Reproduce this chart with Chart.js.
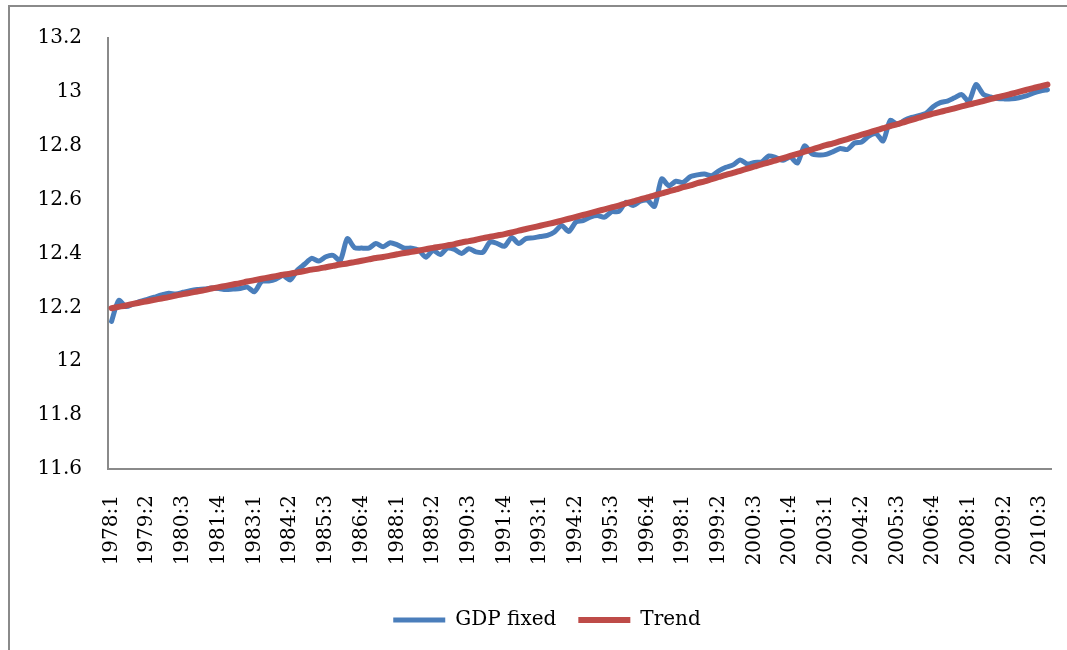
<!DOCTYPE html>
<html>
<head>
<meta charset="utf-8">
<script src="https://cdn.jsdelivr.net/npm/chart.js@4"></script>
<style>
  html, body { margin: 0; padding: 0; background: #fff; overflow: hidden; }
  #wrap { position: relative; width: 1067px; height: 650px; overflow: hidden; }
  #frame { position: absolute; left: 8px; top: 5px; width: 1200px; height: 800px; border: 2px solid #8a8a8a; box-sizing: border-box; }
  canvas { position: absolute; left: 0; top: 0; }
</style>
</head>
<body>
<div id="wrap">
  <div id="frame"></div>
  <canvas id="c" width="1081" height="650"></canvas>
</div>
<script>
// Quarter categories 1978:1 .. 2010:4
const startYear = 1978;
const quarterCount = 132;
const categories = [];
for (let i = 0; i < quarterCount; i++) {
  categories.push((startYear + Math.floor(i / 4)) + ':' + (i % 4 + 1));
}

const gdpFixed = [
  12.148, 12.226, 12.203, 12.212, 12.222, 12.230, 12.238, 12.246, 12.252, 12.250,
  12.256, 12.262, 12.266, 12.268, 12.272, 12.270, 12.266, 12.268, 12.270, 12.275,
  12.258, 12.296, 12.298, 12.305, 12.318, 12.302, 12.338, 12.360, 12.382, 12.372,
  12.388, 12.393, 12.374, 12.455, 12.422, 12.420, 12.420, 12.437, 12.425, 12.440,
  12.432, 12.420, 12.420, 12.412, 12.386, 12.412, 12.396, 12.420, 12.415, 12.400,
  12.418, 12.406, 12.405, 12.443, 12.437, 12.427, 12.459, 12.437, 12.455, 12.458,
  12.463, 12.467, 12.480, 12.504, 12.482, 12.517, 12.522, 12.535, 12.541, 12.535,
  12.555, 12.556, 12.590, 12.578, 12.594, 12.598, 12.575, 12.677, 12.652, 12.668,
  12.664, 12.685, 12.692, 12.695, 12.689, 12.707, 12.720, 12.729, 12.747, 12.732,
  12.738, 12.740, 12.762, 12.756, 12.746, 12.758, 12.736, 12.800, 12.771, 12.766,
  12.768, 12.778, 12.790, 12.786, 12.810, 12.814, 12.836, 12.845, 12.818, 12.894,
  12.879, 12.895, 12.905, 12.912, 12.920, 12.945, 12.960, 12.966, 12.978, 12.990,
  12.965, 13.027, 12.992, 12.981, 12.975, 12.974, 12.974, 12.978, 12.985, 12.995,
  13.003, 13.008
];

const trend = [
  12.197, 12.202, 12.207, 12.213, 12.218, 12.223, 12.228, 12.233, 12.238, 12.244,
  12.249, 12.254, 12.259, 12.264, 12.270, 12.275, 12.280, 12.285, 12.290, 12.296,
  12.301, 12.306, 12.311, 12.316, 12.321, 12.325, 12.330, 12.335, 12.340, 12.344,
  12.349, 12.354, 12.359, 12.363, 12.368, 12.373, 12.378, 12.383, 12.387, 12.392,
  12.397, 12.402, 12.406, 12.411, 12.416, 12.421, 12.425, 12.430, 12.435, 12.441,
  12.446, 12.451, 12.457, 12.462, 12.467, 12.472, 12.478, 12.485, 12.491, 12.497,
  12.503, 12.509, 12.515, 12.522, 12.529, 12.536, 12.543, 12.550, 12.557, 12.564,
  12.571, 12.578, 12.586, 12.593, 12.601, 12.608, 12.616, 12.623, 12.631, 12.638,
  12.646, 12.653, 12.661, 12.668, 12.676, 12.684, 12.692, 12.699, 12.707, 12.715,
  12.723, 12.731, 12.738, 12.746, 12.754, 12.762, 12.770, 12.778, 12.786, 12.794,
  12.802, 12.809, 12.817, 12.825, 12.833, 12.841, 12.849, 12.857, 12.865, 12.873,
  12.880, 12.888, 12.896, 12.904, 12.912, 12.919, 12.926, 12.932, 12.939, 12.946,
  12.953, 12.959, 12.966, 12.973, 12.980, 12.986, 12.993, 13.000, 13.007, 13.014,
  13.020, 13.027
];

const seriesNames = ['GDP fixed', 'Trend'];
const yMin = 11.6, yMax = 13.2, yStep = 0.2;
const labelEvery = 5;

const FONT = 'DejaVu Serif';
const axisColor = '#8a8a8a';

new Chart(document.getElementById('c'), {
  type: 'line',
  data: {
    labels: categories,
    datasets: [
      {
        label: seriesNames[0],
        data: gdpFixed,
        borderColor: '#4a7ebb',
        backgroundColor: '#4a7ebb',
        borderWidth: 5,
        borderCapStyle: 'round',
        borderJoinStyle: 'round',
        pointRadius: 0,
        tension: 0.25,
        order: 1
      },
      {
        label: seriesNames[1],
        data: trend,
        borderColor: '#be4b48',
        backgroundColor: '#be4b48',
        borderWidth: 6,
        borderCapStyle: 'round',
        borderJoinStyle: 'round',
        pointRadius: 0,
        tension: 0.3,
        order: 0
      }
    ]
  },
  options: {
    responsive: false,
    animation: false,
    devicePixelRatio: 1,
    layout: { padding: { left: 13, right: 0, top: 29, bottom: 10 } },
    plugins: {
      tooltip: { enabled: false },
      legend: {
        position: 'bottom',
        labels: {
          sort: (a, b) => a.datasetIndex - b.datasetIndex,
          usePointStyle: true,
          pointStyle: 'line',
          pointStyleWidth: 52,
          boxHeight: 20,
          padding: 22,
          color: '#000',
          font: { family: FONT, size: 20 }
        }
      }
    },
    scales: {
      x: {
        type: 'category',
        offset: true,
        grid: { display: true, drawOnChartArea: false, drawTicks: true, tickLength: 24, tickColor: 'rgba(0,0,0,0)' },
        border: { display: true, color: axisColor, width: 2 },
        ticks: {
          autoSkip: false,
          maxRotation: 90,
          minRotation: 90,
          padding: 2,
          color: '#000',
          font: { family: FONT, size: 20 },
          callback: function (v, i) { return i % labelEvery === 0 ? categories[i] : ''; }
        },
        afterFit: function (scale) { scale.height = 119; }
      },
      y: {
        min: yMin,
        max: yMax,
        grid: { display: true, drawOnChartArea: false, drawTicks: false },
        border: { display: true, color: axisColor, width: 2 },
        ticks: {
          stepSize: yStep,
          padding: 26,
          color: '#000',
          font: { family: FONT, size: 20 },
          callback: function (v) { return String(Number(v.toFixed(1))); }
        },
        afterFit: function (scale) { scale.width = 95; }
      },
      yPad: {
        position: 'right',
        display: true,
        grid: { display: false, drawTicks: false },
        border: { display: false },
        ticks: { display: false },
        afterFit: function (scale) { scale.width = 30; }
      }
    }
  }
});
</script>
</body>
</html>
